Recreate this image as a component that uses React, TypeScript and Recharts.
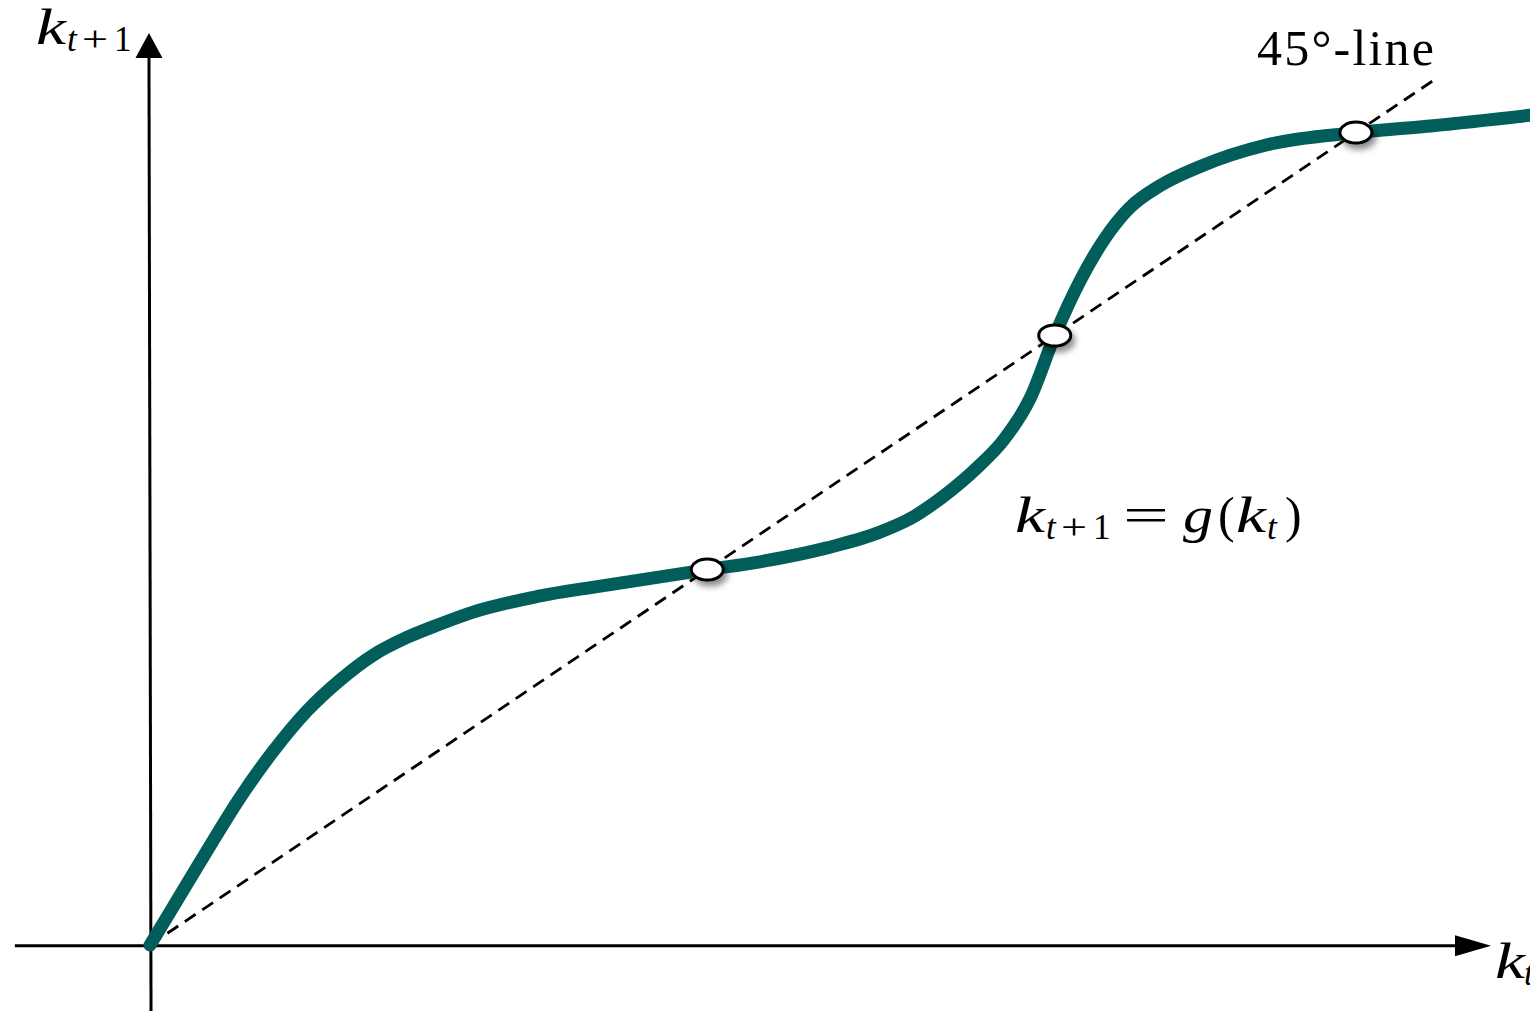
import React from 'react';
import { ComposedChart, Line, Scatter, XAxis, YAxis } from 'recharts';

// g(k) curve (data units: 45-degree line is y = x)
const curveK = [0, 0.18, 0.44, 0.7, 0.96, 1.22, 1.48, 1.73, 2.0, 2.25, 2.51, 3.01, 3.5, 4.33, 4.74, 5.26, 5.65, 5.91, 6.16, 6.43, 6.63, 6.84, 7.03, 7.23, 7.42, 7.61, 7.85, 8.16, 8.68, 9.37, 9.97, 10.72];
const curveG = [0, 0.44, 1.08, 1.7, 2.24, 2.7, 3.06, 3.34, 3.55, 3.7, 3.84, 4.02, 4.14, 4.33, 4.42, 4.58, 4.75, 4.92, 5.17, 5.51, 5.82, 6.31, 7.03, 7.67, 8.15, 8.5, 8.76, 8.98, 9.23, 9.37, 9.45, 9.57];

// steady states (where the curve crosses the 45-degree line)
const steadyStates = [4.33, 7.03, 9.37];

// 45-degree line end points
const diagonalEnds = [0, 10];

// axis extents
const xAxisEnds = [-1.05, 10.14];
const yAxisEnds = [-0.76, 10.23];

const XMIN = -1.1655;
const XMAX = 10.7226;
const YMIN = -0.7612;
const YMAX = 10.8997;

const W = 1530;
const H = 1011;

const teal = '#025e5a';

const curveData = curveK.map((k, i) => ({ x: k, y: curveG[i] }));
const diagonalData = diagonalEnds.map((v) => ({ x: v, y: v }));
const pointData = steadyStates.map((v) => ({ x: v, y: v }));
const xAxisData = xAxisEnds.map((v) => ({ x: v, y: -0.01 }));
const yAxisData = yAxisEnds.map((v, i) => ({ x: i === 0 ? 0.008 : -0.008, y: v }));

const xArrow = (p: any) => {
  if (p.index !== xAxisData.length - 1) return <g key={p.key} />;
  const { cx, cy } = p;
  return <polygon key={p.key} points={`${cx},${cy - 10.5} ${cx + 36},${cy} ${cx},${cy + 10.5}`} fill="#000" />;
};

const yArrow = (p: any) => {
  if (p.index !== yAxisData.length - 1) return <g key={p.key} />;
  const { cx, cy } = p;
  return <polygon key={p.key} points={`${cx - 13.5},${cy} ${cx},${cy - 25} ${cx + 13.5},${cy}`} fill="#000" />;
};

const SteadyDot = (props: any) => {
  const { cx, cy } = props;
  return (
    <ellipse cx={cx} cy={cy} rx={16} ry={10.5} fill="#fff" stroke="#000" strokeWidth={3} filter="url(#dotShadow)" />
  );
};

const serif = '"Liberation Serif", "Times New Roman", serif';

// k with a t+1 subscript, laid out from the left edge of the k
const KtPlus1 = ({ x, y }: { x: number; y: number }) => (
  <g>
    <text x={x} y={y} fontSize={50} fontStyle="italic" textLength={30} lengthAdjust="spacingAndGlyphs">k</text>
    <text x={x + 31} y={y + 7} fontSize={35} fontStyle="italic">t</text>
    <text x={x + 46} y={y + 7} fontSize={35} textLength={26} lengthAdjust="spacingAndGlyphs">+</text>
    <text x={x + 78} y={y + 7} fontSize={35}>1</text>
  </g>
);

export default function App() {
  return (
    <div style={{ position: 'absolute', left: 0, top: 0, width: W, height: H, background: '#fff', overflow: 'hidden' }}>
      <svg width={0} height={0} style={{ position: 'absolute' }}>
        <defs>
          <filter id="dotShadow" x="-50%" y="-50%" width="220%" height="240%">
            <feDropShadow dx={3} dy={5} stdDeviation={3} floodColor="#000" floodOpacity={0.45} />
          </filter>
        </defs>
      </svg>
      <ComposedChart width={W} height={H} margin={{ top: 0, right: 0, bottom: 0, left: 0 }}>
        <XAxis type="number" dataKey="x" domain={[XMIN, XMAX]} allowDataOverflow hide />
        <YAxis type="number" dataKey="y" domain={[YMIN, YMAX]} allowDataOverflow hide />
        <Line data={xAxisData} dataKey="y" stroke="#000" strokeWidth={3} dot={xArrow} activeDot={false} isAnimationActive={false} />
        <Line data={yAxisData} dataKey="y" stroke="#000" strokeWidth={3} dot={yArrow} activeDot={false} isAnimationActive={false} />
        <Line
          data={diagonalData}
          dataKey="y"
          stroke="#000"
          strokeWidth={2.8}
          strokeDasharray="13 8"
          dot={false}
          activeDot={false}
          isAnimationActive={false}
        />
        <Line
          data={curveData}
          dataKey="y"
          type="monotone"
          stroke={teal}
          strokeWidth={13}
          strokeLinecap="round"
          dot={false}
          activeDot={false}
          isAnimationActive={false}
        />
        <Scatter data={pointData} dataKey="y" shape={SteadyDot} isAnimationActive={false} />
      </ComposedChart>
      <svg width={W} height={H} style={{ position: 'absolute', left: 0, top: 0, pointerEvents: 'none' }} fontFamily={serif} fill="#000">
        {/* y axis label */}
        <KtPlus1 x={36} y={44} />
        {/* 45-degree label */}
        <text x={1257} y={65} fontSize={50} textLength={177} lengthAdjust="spacing">45°-line</text>
        {/* curve label */}
        <KtPlus1 x={1015} y={532} />
        <text x={1123} y={532} fontSize={50} textLength={46} lengthAdjust="spacingAndGlyphs">=</text>
        <text x={1183} y={532} fontSize={50} fontStyle="italic" textLength={30} lengthAdjust="spacingAndGlyphs">g</text>
        <text x={1218} y={532} fontSize={50}>(</text>
        <text x={1236} y={532} fontSize={50} fontStyle="italic" textLength={30} lengthAdjust="spacingAndGlyphs">k</text>
        <text x={1267} y={539} fontSize={35} fontStyle="italic">t</text>
        <text x={1285} y={532} fontSize={50}>)</text>
        {/* x axis label */}
        <text x={1495} y={978} fontSize={50} fontStyle="italic" textLength={30} lengthAdjust="spacingAndGlyphs">k</text>
        <text x={1524} y={985} fontSize={35} fontStyle="italic">t</text>
      </svg>
    </div>
  );
}
